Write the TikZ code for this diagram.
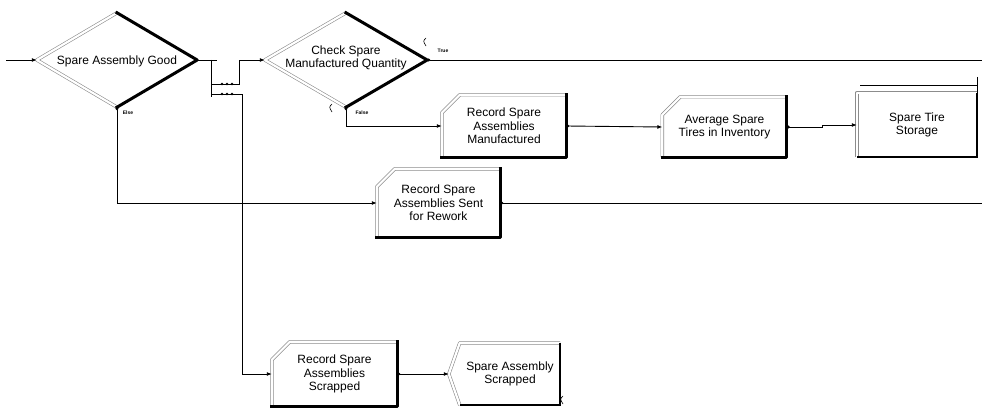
\documentclass[tikz,border=0pt]{standalone}
\usepackage{fontspec}
\setmainfont{Liberation Sans}
\usetikzlibrary{shapes.geometric,arrows.meta}
\newcommand\procdeco[1]{%
  \draw[bevel] (#1.south west) -- ([yshift=-18pt]#1.north west) -- ([xshift=18pt]#1.north west) -- (#1.north east);
  \draw[shade] (#1.north east) -- (#1.south east) -- (#1.south west);
}
\newcommand\diadeco[1]{%
  \draw[bevel] (#1.south) -- (#1.west) -- (#1.north);
  \draw[shade] (#1.north) -- (#1.east) -- (#1.south);
}
\begin{document}
\begin{tikzpicture}[x=1pt,y=-1pt,
  txt/.style={font=\fontsize{12}{13.5}\selectfont, align=center},
  procbox/.style={rectangle, draw=none, inner sep=0pt, minimum width=124pt, minimum height=62pt, txt},
  dia/.style={diamond, draw=none, inner sep=0pt, minimum width=160pt, minimum height=94pt},
  bevel/.style={draw=black!45, double=white, double distance=2.2pt, line width=0.6pt, line join=round},
  shade/.style={draw=black, line width=3pt, line join=round, line cap=rect},
  line/.style={draw=black, line width=0.9pt},
  conn/.style={line, {Circle[length=3pt]}-{Latex[length=5pt,width=4pt]}},
  connout/.style={line, {Circle[length=3pt]}-},
  tiny/.style={font=\fontsize{5}{5}\selectfont\bfseries, inner sep=0pt},
  bead/.style={fill=black, circle, inner sep=0pt, minimum size=2.6pt}
]
\useasboundingbox (0,0) rectangle (982,409);

% decision nodes
\node[dia] (d1) at (117,60) {};
\node[txt, inner sep=0pt] (d1t) at (117,61) {Spare Assembly Good};
\diadeco{d1}
\node[dia, minimum width=162pt] (d2) at (346,60) {};
\node[txt, inner sep=0pt] (d2t) at (346,58) {Check Spare\\Manufactured Quantity};
\diadeco{d2}

% process boxes
\node[procbox] (man) at (504,126) {Record Spare\\Assemblies\\Manufactured};
\procdeco{man}
\node[procbox, minimum height=60pt] (avg) at (724.5,127) {Average Spare\\Tires in Inventory};
\procdeco{avg}
\node[procbox, minimum height=68pt, minimum width=123pt] (rew) at (438.5,203) {Record Spare\\Assemblies Sent\\for Rework};
\procdeco{rew}
\node[procbox, minimum height=64pt, minimum width=125pt] (scr) at (334.5,374) {Record Spare\\Assemblies\\Scrapped};
\procdeco{scr}

% storage
\node[procbox, minimum width=120pt, minimum height=64pt] (sto) at (917,125) {Spare Tire\\Storage};
\draw[bevel] (sto.south west) -- (sto.north west) -- (sto.north east);
\draw[draw=black, line width=1.6pt] (sto.north east) -- (sto.south east) -- (sto.south west);
\coordinate (q1) at (860,85);
\coordinate (q2) at (977,85);
\coordinate (q3) at (977,77);
\coordinate (q4) at (977,93);
\draw[line, line width=0.8pt] (q1) -- (q2);
\draw[line, line width=0.8pt] (q3) -- (q4);

% dispose
\node[rectangle, draw=none, inner sep=0pt, minimum width=100pt, minimum height=62pt, txt] (disp) at (510,374) {Spare Assembly\\Scrapped};
\coordinate (dtip) at ([xshift=-11pt]disp.west);
\draw[bevel] (disp.south west) -- (dtip) -- (disp.north west) -- (disp.north east);
\draw[draw=black, line width=1.8pt] (disp.north east) -- (disp.south east) -- (disp.south west);

% connectors
\coordinate (in) at (6,60);
\draw[line, -{Latex[length=5pt,width=4pt]}] (in) -- (d1.west);

\coordinate (s1) at (217,60);
\draw[line] (d1.east) -- (s1);
\coordinate (busT) at (211,60);
\coordinate (busB) at (211,97);
\draw[line] (busT) -- (busB);
\coordinate (b1) at (211,84);
\coordinate (b2) at (211,94);
\draw[line, -{Latex[length=5pt,width=4pt]}] (b1) -- (239,84) -- (239,60) -- (d2.west);
\draw[line, -{Latex[length=5pt,width=4pt]}] (b2) -- (242,94) -- (242,374) -- (scr.west);
\foreach \xx in {222,227,232} {
  \node[bead] (ba\xx) at (\xx,84) {};
  \node[bead] (bb\xx) at (\xx,94) {};
}

\draw[conn] (d1.south) -- (117,203) -- (rew.west);
\draw[conn] (d2.south) -- (346,126) -- (man.west);
\coordinate (outT) at (982,60);
\draw[connout] (d2.east) -- (outT);
\coordinate (outR) at (982,203);
\draw[connout] (rew.east) -- (outR);
\draw[conn] (man.east) -- (avg.west);
\draw[conn] (avg.east) -- ++(36,0) |- (sto.west);
\draw[conn] (scr.east) -- (dtip);

% exit labels
\node[tiny] (lT) at (443,51) {True};
\node[tiny] (lF) at (362,113) {False};
\node[tiny] (lE) at (128,113) {Else};

% small marks
\draw[line width=0.6pt] (426,38) .. controls (423,41) .. (426,46);
\draw[line width=0.6pt] (332,104) .. controls (329,107) .. (332,112);
\draw[line width=0.6pt] (563,396) .. controls (560,399) .. (563,404);
\end{tikzpicture}
\end{document}
